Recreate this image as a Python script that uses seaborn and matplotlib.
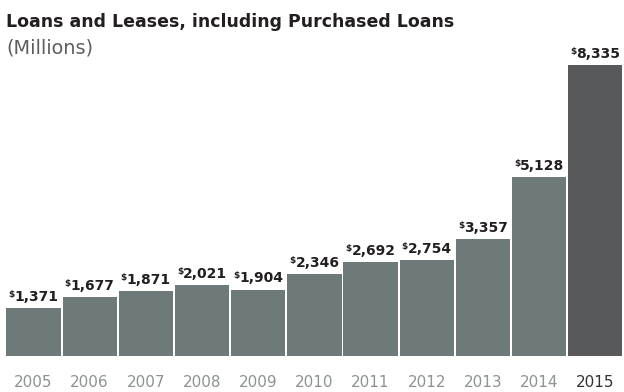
import matplotlib
matplotlib.use("Agg")
import matplotlib.pyplot as plt
import seaborn as sns
import pandas as pd
from matplotlib.offsetbox import TextArea, HPacker, AnnotationBbox

# Loans and leases, including purchased loans ($ millions)
years = ["2005", "2006", "2007", "2008", "2009", "2010",
         "2011", "2012", "2013", "2014", "2015"]
loans = [1371, 1677, 1871, 2021, 1904, 2346, 2692, 2754, 3357, 5128, 8335]
highlight_year = "2015"

title = "Loans and Leases, including Purchased Loans"
subtitle = "(Millions)"

BAR = "#6d7a79"
BAR_HI = "#58595b"
DARK = "#231f20"
GREY_TXT = "#8c9394"

sns.set_theme(style="white")
plt.rcParams["font.family"] = ["DejaVu Sans"]

df = pd.DataFrame({"year": years, "loans": loans})
palette = {y: (BAR_HI if y == highlight_year else BAR) for y in years}

W, H = 624, 392
fig = plt.figure(figsize=(W / 100, H / 100), dpi=100)
ax = fig.add_axes([5.4 / W, 36 / H, 618 / W, 356 / H])

sns.barplot(data=df, x="year", y="loans", hue="year", palette=palette,
            legend=False, width=0.965, linewidth=0, saturation=1, ax=ax)
ax.set_xlim(-0.5, len(years) - 0.5)
ax.set_ylim(0, 10197)
sns.despine(ax=ax, left=True, bottom=True)
ax.set_yticks([])
ax.set_xlabel("")
ax.set_ylabel("")
ax.tick_params(axis="x", length=0, pad=13.5, labelsize=11)
for lbl in ax.get_xticklabels():
    if lbl.get_text() == highlight_year:
        lbl.set_color("#333333")
    else:
        lbl.set_color(GREY_TXT)

# value labels with a small superscript dollar sign
for i, v in enumerate(loans):
    dollar = TextArea("$", textprops=dict(size=6.5, weight="bold", color=DARK))
    num = TextArea(f"{v:,}", textprops=dict(size=10, weight="bold", color=DARK))
    box = HPacker(children=[dollar, num], align="top", pad=0, sep=0)
    ab = AnnotationBbox(box, (i, v), xybox=(0, 3), xycoords="data",
                        boxcoords="offset points", box_alignment=(0.5, 0),
                        frameon=False, pad=0)
    ax.add_artist(ab)

# header text, sized to its target width
t = fig.text(6 / W, 1 - 27 / H, title, fontsize=12, weight="bold",
             color=DARK, va="baseline", ha="left")
s = fig.text(6 / W, 1 - 53 / H, subtitle, fontsize=13, color="#5e5e5e",
             va="baseline", ha="left")
fig.canvas.draw()
r = fig.canvas.get_renderer()
for txt, target in ((t, 446), (s, 87)):
    w = txt.get_window_extent(r).width
    txt.set_fontsize(txt.get_fontsize() * target / w)

fig.savefig("out.png", dpi=100)
